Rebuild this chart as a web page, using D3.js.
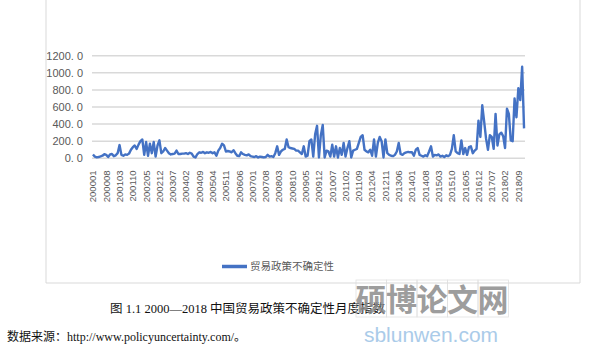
<!DOCTYPE html>
<html>
<head>
<meta charset="utf-8">
<script src="https://cdn.jsdelivr.net/npm/d3@7"></script>
<style>
  body { margin: 0; background: #fff; }
  svg { display: block; }
  .axis text { fill: #595959; font-family: "Liberation Sans", Arial, sans-serif; }
  .axis path, .axis line { display: none; }
</style>
</head>
<body>
<div id="chart"></div>
<script>
// 2000-01 .. 2018-12, monthly
const years = d3.range(2000, 2019);
const months = years.flatMap(y => d3.range(1, 13).map(m => `${y}${String(m).padStart(2, "0")}`));

const seriesName = "贸易政策不确定性";
const yTicks = [0, 200, 400, 600, 800, 1000, 1200];

// values, one row per year
const tpuIndex = [
  45, 20, 12, 15, 22, 30, 48, 40, 15, 45, 50, 25,          // 2000
  35, 60, 155, 40, 30, 45, 40, 55, 100, 130, 150, 110,     // 2001
  160, 200, 220, 40, 190, 30, 170, 60, 190, 20, 150, 210,  // 2002
  60, 80, 120, 90, 60, 45, 50, 55, 90, 50, 50, 55,         // 2003
  55, 60, 50, 65, 55, 20, 10, 50, 70, 65, 75, 60,          // 2004
  70, 65, 75, 60, 70, 30, 90, 120, 170, 150, 80, 85,       // 2005
  80, 70, 95, 60, 30, 25, 70, 50, 40, 35, 45, 25,          // 2006
  20, 15, 25, 10, 20, 15, 10, 15, 40, 20, 25, 15,          // 2007
  60, 140, 40, 80, 100, 110, 220, 130, 120, 115, 110, 90,  // 2008
  90, 70, 50, 140, 20, 30, 200, 220, 20, 280, 380, 10,     // 2009
  270, 390, 10, 90, 80, 20, 160, 20, 140, 10, 120, 40,     // 2010
  180, 20, 120, 200, 10, 90, 100, 110, 180, 250, 270, 100, // 2011
  80, 70, 100, 30, 220, 20, 180, 250, 200, 10, 220, 60,    // 2012
  40, 30, 25, 40, 80, 180, 50, 40, 60, 70, 75, 70,         // 2013
  70, 30, 100, 120, 40, 30, 20, 35, 25, 80, 140, 20,       // 2014
  40, 35, 45, 20, 30, 15, 35, 25, 40, 110, 270, 80,        // 2015
  60, 50, 210, 50, 120, 40, 130, 140, 60, 90, 110, 440,    // 2016
  250, 620, 430, 230, 100, 270, 250, 110, 520, 150, 280, 300, // 2017
  260, 120, 580, 520, 210, 200, 700, 480, 820, 680, 1070, 350 // 2018
];

const data = months.map((m, i) => ({ month: m, value: tpuIndex[i] }));

const width = 591, height = 351;
const plot = { left: 92, right: 525, top: 55.7, bottom: 158.3 };

const svg = d3.select("#chart").append("svg")
  .attr("width", width)
  .attr("height", height);

// chart frame
svg.append("path")
  .attr("d", `M46,-2 V283 H580 V-2`)
  .attr("fill", "none")
  .attr("stroke", "#d9d9d9")
  .attr("stroke-width", 1);

const x = d3.scaleBand()
  .domain(months)
  .range([plot.left, plot.right]);

const y = d3.scaleLinear()
  .domain([0, 1200])
  .range([plot.bottom, plot.top]);

// gridlines
svg.append("g")
  .selectAll("line")
  .data(yTicks)
  .join("line")
  .attr("x1", plot.left)
  .attr("x2", plot.right)
  .attr("y1", d => y(d))
  .attr("y2", d => y(d))
  .attr("stroke", "#d9d9d9")
  .attr("stroke-width", 1.5);

const fmt = d3.format(".1f");

svg.append("g")
  .attr("class", "axis")
  .attr("transform", `translate(${plot.left},0)`)
  .call(d3.axisLeft(y).tickValues(yTicks).tickSize(0).tickPadding(9)
    .tickFormat(d => fmt(d).replace(".", ". ")))
  .selectAll("text")
  .style("font-size", "11px");

const xAxis = svg.append("g")
  .attr("class", "axis")
  .attr("transform", `translate(0,${plot.bottom})`)
  .call(d3.axisBottom(x).tickValues(months.filter((m, i) => i % 7 === 0)).tickSize(0));

xAxis.selectAll("text")
  .style("font-size", "9.6px")
  .attr("text-anchor", "end")
  .attr("dy", "0.35em")
  .attr("transform", "translate(0,12) rotate(-90)")
  .attr("x", 0)
  .attr("y", 0);

const line = d3.line()
  .x(d => x(d.month) + x.bandwidth() / 2)
  .y(d => y(d.value));

svg.append("path")
  .datum(data)
  .attr("fill", "none")
  .attr("stroke", "#4472C4")
  .attr("stroke-width", 2.4)
  .attr("stroke-linejoin", "round")
  .attr("d", line);

// legend
const legend = svg.append("g").attr("transform", "translate(222,266.5)");
legend.append("line")
  .attr("x1", 0).attr("x2", 25)
  .attr("stroke", "#4472C4")
  .attr("stroke-width", 3.5);
legend.append("text")
  .attr("x", 28)
  .attr("dy", "0.36em")
  .attr("fill", "#595959")
  .style("font-family", "'Noto Sans CJK SC', sans-serif")
  .style("font-size", "10.5px")
  .text(seriesName);

// caption and source
svg.append("text")
  .attr("x", 110)
  .attr("y", 313)
  .attr("fill", "#111")
  .style("font-family", "'Liberation Serif', 'Noto Sans CJK SC', serif")
  .style("font-size", "12.5px")
  .text("图 1.1  2000—2018 中国贸易政策不确定性月度指数");

svg.append("text")
  .attr("x", 7)
  .attr("y", 341)
  .attr("fill", "#111")
  .style("font-family", "'Liberation Serif', 'Noto Sans CJK SC', serif")
  .style("font-size", "12px")
  .text("数据来源：http://www.policyuncertainty.com/。");

// watermark
const wm = svg.append("g").attr("opacity", 0.85);
const wmChars = ["硕", "博", "论", "文", "网"];
wm.selectAll("rect")
  .data(wmChars)
  .join("rect")
  .attr("x", (d, i) => 356 + i * 30.5)
  .attr("y", 280)
  .attr("width", 30.5)
  .attr("height", 37)
  .attr("fill", "none")
  .attr("stroke", "#ddd")
  .attr("stroke-width", 0.8);
wm.selectAll("text.ch")
  .data(wmChars)
  .join("text")
  .attr("class", "ch")
  .attr("x", (d, i) => 371 + i * 30.5)
  .attr("y", 311)
  .attr("text-anchor", "middle")
  .attr("fill", "#8c8c8c")
  .style("font-family", "'Noto Sans CJK SC', sans-serif")
  .style("font-weight", "bold")
  .style("font-size", "31px")
  .text(d => d);
wm.append("text")
  .attr("x", 431)
  .attr("y", 342)
  .attr("text-anchor", "middle")
  .attr("fill", "#9cc3e6")
  .style("font-family", "'Liberation Sans', Arial, sans-serif")
  .style("font-size", "21px")
  .text("sblunwen.com");
</script>
</body>
</html>
